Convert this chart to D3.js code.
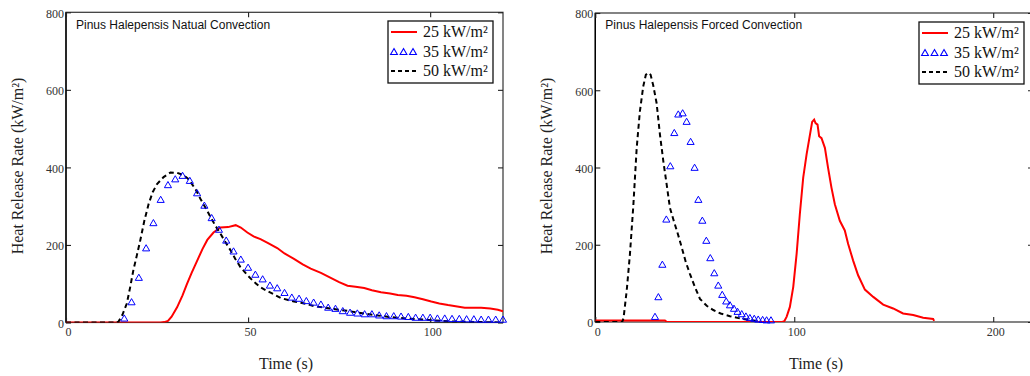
<!DOCTYPE html>
<html>
<head>
<meta charset="utf-8">
<script src="https://cdn.jsdelivr.net/npm/d3@7"></script>
<style>
  body { margin: 0; background: #fff; }
  svg { display: block; }
  .tick text { font-family: "Liberation Serif", "Times New Roman", serif; font-size: 12px; fill: #333; }
</style>
</head>
<body>
<script>
'use strict';

// ---- natural convection (left panel) ----
const natT25 = [0, 26, 27, 28, 29, 30.5, 32, 33.2, 34.5, 36, 37.5, 38.8, 40.5, 42.4, 44.5, 46.6, 48, 49.8, 51.5, 53.4, 55.5, 58, 60, 62.6, 65, 67.2, 70, 72.7, 75, 77.3, 79.5, 81.9, 84, 86.5, 89, 91.1, 93.5, 95.7, 98, 100.3, 102.5, 104.9, 107, 109.5, 112, 114, 116.5, 118.6, 120]
const natV25 = [0, 0, 1, 4, 15, 39, 70, 99, 128, 159, 190, 213, 232, 245, 246, 251, 245, 232, 222, 215, 205, 192, 178, 164, 150, 139, 128, 115, 104, 95, 92, 89, 83, 78, 75, 71, 69, 65, 60, 54, 49, 45, 42, 38, 38, 38, 36, 33, 29]

const natT35 = [16, 18, 20, 22, 24, 26, 28, 30, 32, 34, 36, 38, 40, 42, 44, 46, 48, 50, 52, 54, 56, 58, 60, 62, 64, 66, 68, 70, 72, 74, 76, 78, 80, 82, 84, 86, 88, 90, 92, 94, 96, 98, 100, 102, 104, 106, 108, 110, 112, 114, 116, 118, 120]
const natV35 = [9, 51, 114, 190, 255, 315, 353, 368, 377, 364, 332, 300, 268, 238, 210, 182, 161, 140, 122, 110, 94, 87, 75, 63, 60, 54, 50, 45, 37, 34, 28, 24, 22, 20, 20, 17, 15, 15, 14, 13, 11, 11, 11, 9, 9, 8, 8, 7, 7, 6, 6, 6, 6]

const natT50 = [0, 14, 14.4, 15.5, 16.7, 17.6, 18.5, 19.5, 20.4, 21.5, 22.7, 23.8, 25, 26.8, 28.7, 30.5, 32.3, 33.5, 34.6, 35.8, 36.9, 38.3, 39.7, 41, 42.4, 43.8, 45.2, 46.5, 47.9, 49.8, 51.6, 53.4, 55.3, 57, 59, 61, 62.6, 64.5, 66.3, 68.1, 72.7, 77.3, 82, 86.5, 91, 95.7, 100.3, 104.9, 110, 115, 120]
const natV50 = [0, 0, 2, 20, 49, 90, 135, 175, 212, 262, 306, 336, 357, 375, 387, 386, 380, 371, 357, 340, 319, 296, 272, 250, 229, 207, 186, 164, 143, 122, 105, 91, 81, 73, 63, 58, 54, 51, 47, 42, 36, 30, 23, 17, 12, 9, 6, 3, 2, 1, 0]

// ---- forced convection (right panel) ----
const forT25 = [0, 35, 36, 94, 95, 96.2, 97.8, 99.5, 101.2, 102.8, 104.5, 106.2, 107.9, 109, 110, 110.7, 111.7, 112.5, 113.7, 115.4, 117, 118.7, 120.4, 122.9, 125.4, 127.1, 129.6, 132.1, 135.5, 139.7, 144.7, 149.7, 154.7, 159.8, 164.8, 169.8, 170.3]
const forV25 = [4, 4, 0, 0, 2, 14, 39, 91, 177, 279, 374, 434, 485, 518, 524, 515, 511, 481, 476, 451, 399, 348, 305, 262, 237, 202, 159, 121, 84, 65, 45, 35, 22, 18, 11, 8, 3]

const forT35 = [30, 31.7, 33.7, 35.7, 37.7, 39.7, 41.7, 43.9, 45.9, 47.9, 49.9, 51.8, 53.8, 55.8, 57.8, 59.8, 61.8, 63.8, 65.8, 67.7, 69.7, 71.5, 73.6, 75.7, 77.7, 79.9, 81.9, 84.1, 86.1, 88.3]
const forV35 = [12, 63, 147, 264, 402, 488, 536, 539, 517, 465, 398, 315, 261, 209, 164, 125, 93, 69, 52, 42, 33, 25, 19, 13, 9, 7, 5, 4, 3, 3]

const forT50 = [0, 13.5, 14.2, 15.8, 17.4, 19.1, 20.8, 22.4, 24.1, 25.4, 26.6, 27.8, 29.1, 30.8, 32.5, 34.2, 35.9, 37.5, 39.2, 41.5, 43.4, 45.5, 47.6, 50.1, 52.6, 56, 59.3, 63, 67.7, 72, 77.7, 82.8]
const forV50 = [0, 0, 10, 82, 175, 300, 450, 545, 610, 640, 645, 640, 613, 567, 485, 416, 355, 296, 266, 228, 194, 155, 124, 90, 60, 42, 31, 22, 15, 10, 5, 1]

const yTicks = [0, 200, 400, 600, 800]
const natXTicks = [0, 50, 100]
const forXTicks = [0, 100, 200]
const legendLabels = ["25 kW/m²", "35 kW/m²", "50 kW/m²"]

const m = { width: 1030, height: 376 }

const svg = d3.select('body')
  .append('svg')
  .attr('width', m.width)
  .attr('height', m.height)

function zip(t, v) {
  return t.map((d, i) => ({ t: d, v: v[i] }))
}

function drawPanel(p) {
  const x = d3.scaleLinear().domain(p.xDomain).range([p.left, p.right])
  const y = d3.scaleLinear().domain([0, 800]).range([p.bottom, p.top])
  const g = svg.append('g')

  g.append('clipPath').attr('id', p.id + '-clip')
    .append('rect')
    .attr('x', p.left).attr('y', p.top)
    .attr('width', p.right - p.left).attr('height', p.bottom - p.top)

  // frame
  g.append('rect')
    .attr('x', p.left).attr('y', p.top)
    .attr('width', p.right - p.left).attr('height', p.bottom - p.top)
    .attr('fill', 'none').attr('stroke', '#333').attr('stroke-width', 1.2)

  // axes with inward ticks
  const left = g.append('g').attr('transform', 'translate(' + p.left + ',0)')
    .call(d3.axisLeft(y).tickValues(yTicks).tickSize(-5).tickPadding(2).tickFormat(d3.format('d')))
  const bottom = g.append('g').attr('transform', 'translate(0,' + p.bottom + ')')
    .call(d3.axisBottom(x).tickValues(p.xTicks).tickSize(-5).tickPadding(5).tickFormat(d3.format('d')))
  g.append('g').attr('transform', 'translate(0,' + p.top + ')')
    .call(d3.axisTop(x).tickValues(p.xTicks).tickSize(-5).tickFormat(''))
  g.append('g').attr('transform', 'translate(' + p.right + ',0)')
    .call(d3.axisRight(y).tickValues(yTicks).tickSize(-5).tickFormat(''))
  g.selectAll('.domain').remove()
  g.selectAll('.tick line').attr('stroke', '#222').attr('stroke-width', 1.1)
  left.selectAll('.tick text').attr('dy', '0.4em')
  bottom.selectAll('.tick text').attr('dx', 2)
  left.append('line').attr('y1', p.top).attr('y2', p.bottom).attr('stroke', '#000').attr('stroke-width', 1.4)

  const line = d3.line().x(d => x(d.t)).y(d => y(d.v))
  const plot = g.append('g').attr('clip-path', 'url(#' + p.id + '-clip)')

  plot.append('path')
    .datum(zip(p.t25, p.v25))
    .attr('d', line)
    .attr('fill', 'none').attr('stroke', '#f00').attr('stroke-width', 2)

  g.append('g').selectAll('path')
    .data(zip(p.t35, p.v35))
    .enter()
    .append('path')
    .attr('transform', d => 'translate(' + x(d.t) + ',' + y(d.v) + ')')
    .attr('d', d3.symbol(d3.symbolTriangle, 22))
    .attr('fill', 'none').attr('stroke', '#00f').attr('stroke-width', 1)

  plot.append('path')
    .datum(zip(p.t50, p.v50))
    .attr('d', line)
    .attr('fill', 'none').attr('stroke', '#000').attr('stroke-width', 2)
    .attr('stroke-dasharray', '5,3.5')

  // title
  g.append('text')
    .attr('x', p.left + 10).attr('y', 29)
    .style('font-family', '"Liberation Sans", Arial, sans-serif')
    .style('font-size', '12px')
    .attr('fill', '#111')
    .text(p.title)

  // axis labels
  g.append('text')
    .attr('transform', 'translate(' + (p.left - 43) + ',' + 166 + ')rotate(-90)')
    .attr('text-anchor', 'middle')
    .style('font-family', '"Liberation Serif", "Times New Roman", serif')
    .style('font-size', '16px')
    .attr('fill', '#222')
    .text('Heat Release Rate (kW/m²)')

  g.append('text')
    .attr('x', p.labelX).attr('y', 369)
    .attr('text-anchor', 'middle')
    .style('font-family', '"Liberation Serif", "Times New Roman", serif')
    .style('font-size', '16px')
    .attr('fill', '#222')
    .text('Time (s)')

  // legend
  const lg = g.append('g').attr('transform', 'translate(' + p.legX + ',' + p.legY + ')')
  lg.append('rect')
    .attr('width', 105).attr('height', 62)
    .attr('fill', '#fff').attr('stroke', '#111').attr('stroke-width', 1.3)
  const rows = [11, 31, 50]
  lg.append('line').attr('x1', 3).attr('x2', 29).attr('y1', rows[0]).attr('y2', rows[0])
    .attr('stroke', '#f00').attr('stroke-width', 2)
  lg.selectAll('.legtri').data([6, 15.5, 25]).enter()
    .append('path')
    .attr('transform', d => 'translate(' + d + ',' + (rows[1] + 0.5) + ')')
    .attr('d', d3.symbol(d3.symbolTriangle, 20))
    .attr('fill', 'none').attr('stroke', '#00f').attr('stroke-width', 1.1)
  lg.append('line').attr('x1', 3).attr('x2', 29).attr('y1', rows[2]).attr('y2', rows[2])
    .attr('stroke', '#000').attr('stroke-width', 2).attr('stroke-dasharray', '4,3')
  lg.selectAll('.legtext').data(legendLabels).enter()
    .append('text')
    .attr('x', 35)
    .attr('y', (d, i) => rows[i] + 5)
    .style('font-family', '"Liberation Serif", "Times New Roman", serif')
    .style('font-size', '16px')
    .attr('fill', '#111')
    .text(d => d)
}

drawPanel({
  id: 'nat', left: 66, right: 503, top: 12.3, bottom: 322.5,
  xDomain: [0, 120], xTicks: natXTicks,
  t25: natT25, v25: natV25, t35: natT35, v35: natV35, t50: natT50, v50: natV50,
  title: 'Pinus Halepensis Natual Convection',
  labelX: 286, legX: 388, legY: 21
})

drawPanel({
  id: 'for', left: 595.3, right: 1033, top: 13, bottom: 322,
  xDomain: [0, 220], xTicks: forXTicks,
  t25: forT25, v25: forV25, t35: forT35, v35: forV35, t50: forT50, v50: forV50,
  title: 'Pinus Halepensis Forced Convection',
  labelX: 816, legX: 919, legY: 22
})
</script>
</body>
</html>
